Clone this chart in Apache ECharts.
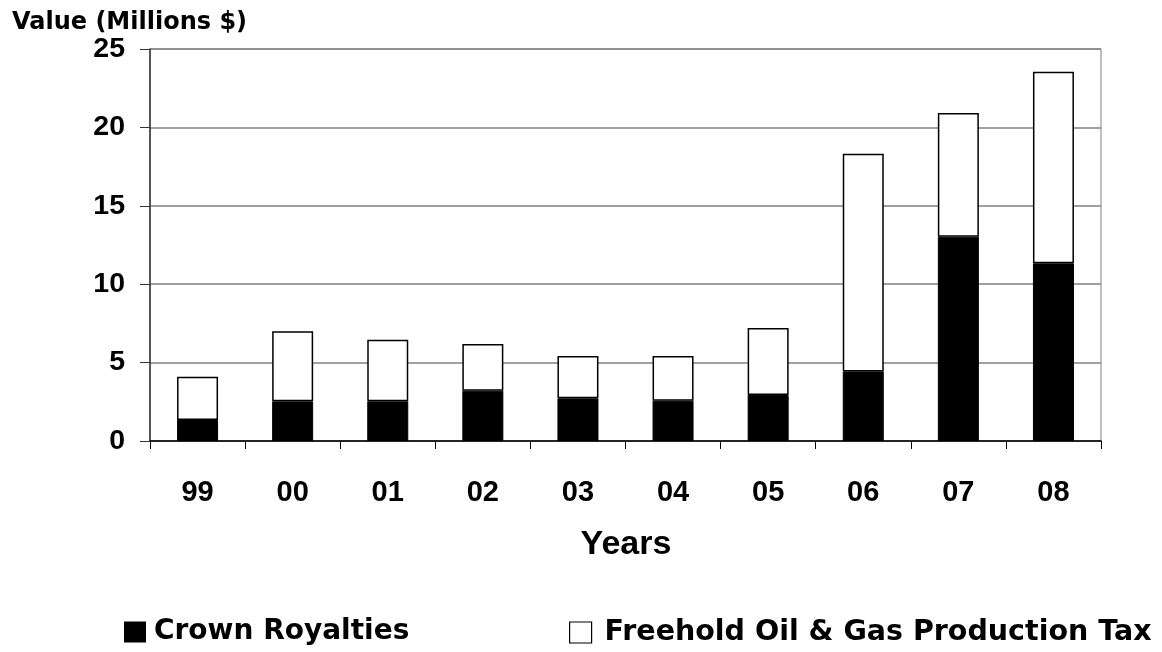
<!DOCTYPE html>
<html>
<head>
<meta charset="utf-8">
<script src="https://cdn.jsdelivr.net/npm/echarts@6/dist/echarts.min.js"></script>
<style>html,body{margin:0;padding:0;background:#fff;}#c{width:1162px;height:652px;}</style>
</head>
<body>
<div id="c"></div>
<script>
const years = ['99','00','01','02','03','04','05','06','07','08'];
const crownRoyalties = [1.34, 2.53, 2.53, 3.21, 2.72, 2.57, 2.93, 4.44, 13.03, 11.33];
const freeholdTax = [2.76, 4.47, 3.92, 2.98, 2.70, 2.85, 4.27, 13.88, 7.89, 12.22];
const yTicks = {min: 0, max: 25, interval: 5};

const chart = echarts.init(document.getElementById('c'));
const numFont = 'Liberation Sans, Arial, sans-serif';
const txtFont = 'DejaVu Sans, sans-serif';
chart.setOption({
  animation: false,
  backgroundColor: '#fff',
  grid: {left: 150, right: 61, top: 49, bottom: 211, show: true, borderColor: '#808080', borderWidth: 1, backgroundColor: 'transparent'},
  legend: [
    {left: 119, top: 613, itemWidth: 22, itemHeight: 21, icon: 'rect',
     data: [{name: 'Crown Royalties', itemStyle: {color: '#000', borderColor: '#000', borderWidth: 0}}],
     textStyle: {fontFamily: txtFont, fontWeight: 'bold', fontSize: 28, color: '#000', padding: [0,0,0,3]}},
    {left: 564, top: 613, itemWidth: 22, itemHeight: 21, icon: 'rect',
     data: [{name: 'Freehold Oil & Gas Production Tax', itemStyle: {color: '#fff', borderColor: '#000', borderWidth: 1.2}}],
     textStyle: {fontFamily: txtFont, fontWeight: 'bold', fontSize: 28.5, color: '#000', padding: [0,0,0,8]}}
  ],
  graphic: [
    {type: 'text', left: 12, top: 11, style: {text: 'Value (Millions $)', font: 'bold 24px DejaVu Sans, sans-serif', fill: '#000'}},
    {type: 'text', x: 626, y: 545, style: {text: 'Years', font: 'bold 34px Liberation Sans, Arial, sans-serif', fill: '#000', textAlign: 'center', textVerticalAlign: 'middle'}}
  ],
  xAxis: {
    type: 'category', data: years,
    axisLine: {lineStyle: {color: '#000', width: 1.5}},
    axisTick: {show: true, length: 8, lineStyle: {color: '#000'}},
    axisLabel: {margin: 37, color: '#000', fontFamily: numFont, fontWeight: 'bold', fontSize: 29}
  },
  yAxis: {
    type: 'value', min: yTicks.min, max: yTicks.max, interval: yTicks.interval,
    axisLine: {show: true, lineStyle: {color: '#333', width: 1.5}},
    axisTick: {show: true, length: 10, lineStyle: {color: '#333'}},
    splitLine: {lineStyle: {color: '#808080', width: 1.5}},
    axisLabel: {margin: 25, color: '#000', fontFamily: numFont, fontWeight: 'bold', fontSize: 28.5}
  },
  series: [
    {name: 'Crown Royalties', type: 'bar', stack: 'v', barWidth: 41, data: crownRoyalties,
     itemStyle: {color: '#000', borderColor: '#000', borderWidth: 1}},
    {name: 'Freehold Oil & Gas Production Tax', type: 'bar', stack: 'v', barWidth: 41, data: freeholdTax,
     itemStyle: {color: '#fff', borderColor: '#000', borderWidth: 1.5}}
  ]
});
</script>
</body>
</html>
